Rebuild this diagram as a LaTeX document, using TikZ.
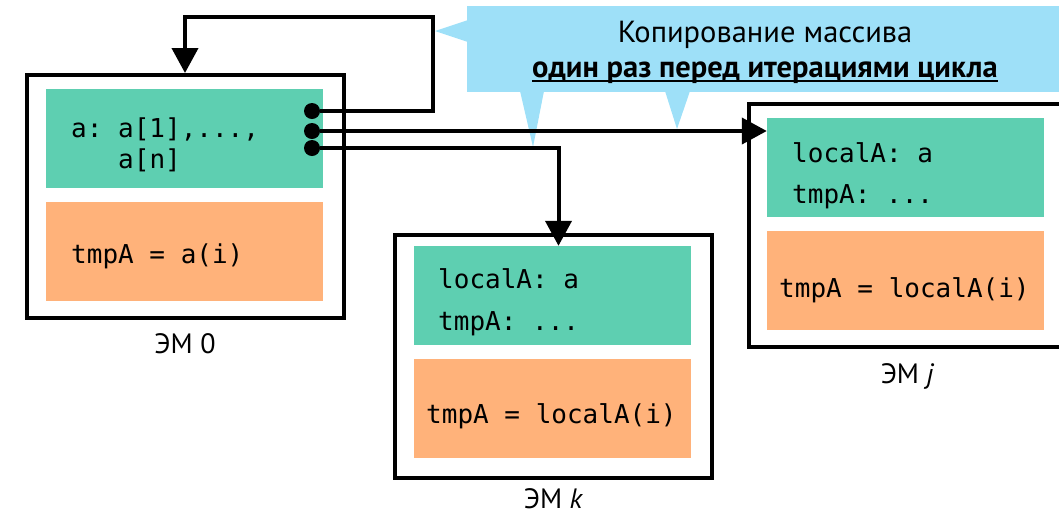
\documentclass[tikz,border=0pt]{standalone}
\usepackage{fontspec}
\setmainfont{PT Sans}
\setmonofont{DejaVu Sans Mono}
\usepackage{xcolor}
\usepackage{tikz}
\definecolor{vargreen}{HTML}{5ECFB1}
\definecolor{codeorange}{HTML}{FFB27A}
\definecolor{noteblue}{HTML}{9EE0F8}
\tikzstyle{embox} = [draw, line width=4pt, minimum width=317pt, minimum height=243pt, inner sep=0pt]
\tikzstyle{varbox} = [fill=vargreen, minimum width=277pt, minimum height=99pt, inner sep=0pt]
\tikzstyle{codebox} = [fill=codeorange, minimum width=277pt, minimum height=99pt, inner sep=0pt]
\tikzstyle{c} = [circle, fill=black, minimum size=16pt, inner sep=0pt]
\tikzstyle{lnk} = [line width=4pt, -{Triangle[width=26pt,length=25pt]}]
\tikzstyle{txt} = [anchor=base west, inner sep=0pt, font=\ttfamily\fontsize{26}{31}\selectfont]
\tikzstyle{lbl} = [anchor=base, inner sep=0pt, font=\fontsize{28}{34}\selectfont]
\tikzstyle{say} = [anchor=base, inner sep=0pt, font=\fontsize{30.5}{36}\selectfont]
\usetikzlibrary{arrows.meta,positioning}

\begin{document}
\begin{tikzpicture}[x=1pt, y=-1pt]
  \useasboundingbox (0,0) rectangle (1059,515);

  \node[fill=noteblue, minimum width=603pt, minimum height=86pt] (note) at (768.5,49) {};
  \fill[noteblue] (468,20) -- (435,31) -- (468,42) -- cycle;
  \fill[noteblue] (520,91) -- (533,147) -- (544,91) -- cycle;
  \fill[noteblue] (665,91) -- (677,129) -- (690,91) -- cycle;
  \node[say] (n1) at (765,42) {Копирование массива};
  \node[say, font=\bfseries\fontsize{30.5}{36}\selectfont] (n2) at (765,77) {один раз перед итерациями цикла};
  \draw[line width=2.5pt] ([yshift=-4pt]n2.base west) -- ([yshift=-4pt]n2.base east);

  \node[embox] (em0) at (185,196.5) {};
  \node[varbox] (var0) at (184.5,138.5) {};
  \node[codebox] (code0) at (184.5,251.5) {};
  \node[txt] (t0a) at (71,137) {a: a[1],...,};
  \node[txt] (t0b) at (118,168) {a[n]};
  \node[txt] (t0c) at (71,263) {tmpA = a(i)};
  \node[lbl] (l0) at ([yshift=-33pt]em0.south) {ЭМ 0};

  \node[embox] (emk) at (553.5,356) {};
  \node[varbox] (vark) at (552.5,295.5) {};
  \node[codebox] (codek) at (552.5,408) {};
  \node[txt] (tka) at (438,288) {localA: a};
  \node[txt] (tkb) at (438,330) {tmpA: ...};
  \node[txt] (tkc) at (426,423) {tmpA = localA(i)};
  \node[lbl] (lk) at ([yshift=-29pt]emk.south) {ЭМ \textit{k}};

  \node[embox] (emj) at (907.5,225.5) {};
  \node[varbox] (varj) at (905.5,167.5) {};
  \node[codebox] (codej) at (905.5,280.5) {};
  \node[txt] (tja) at (792,162) {localA: a};
  \node[txt] (tjb) at (792,203) {tmpA: ...};
  \node[txt] (tjc) at (779,297) {tmpA = localA(i)};
  \node[lbl] (lj) at ([yshift=-34pt]emj.south) {ЭМ \textit{j}};

  \node[c] (d1) at (312,111) {};
  \node[c] (d2) at (312,131) {};
  \node[c] (d3) at (312,148) {};
  \coordinate (top) at (433,17);

  \draw[lnk] (d1) -| (top) -| (em0.north);
  \draw[lnk] (d2) -- (varj.west |- d2);
  \draw[lnk] (d3) -| ([xshift=6pt]vark.north);
\end{tikzpicture}
\end{document}
